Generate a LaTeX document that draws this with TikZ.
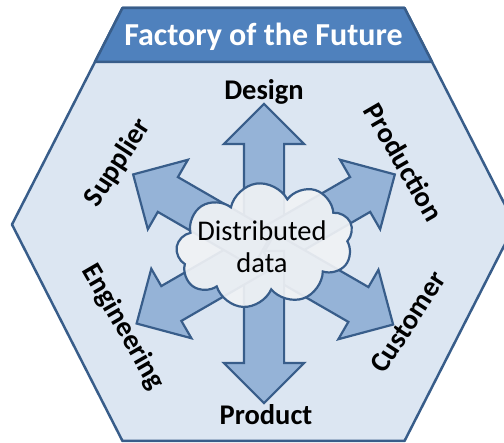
\documentclass[tikz,border=0pt]{standalone}
\usepackage{fontspec}
\setmainfont{Carlito}
\usetikzlibrary{shapes.arrows,shapes.symbols,positioning,calc}
\definecolor{hexfill}{RGB}{220,230,242}
\definecolor{hexline}{RGB}{56,93,138}
\definecolor{titleblue}{RGB}{79,129,189}
\definecolor{arrowfill}{RGB}{149,179,215}
\definecolor{cloudfill}{RGB}{240,242,245}

\begin{document}
\begin{tikzpicture}[
    x=1pt, y=1pt,
    hexside/.style={draw=hexline, line width=2.5pt, fill=hexfill, line join=round},
    titleband/.style={draw=hexline, line width=2.5pt, fill=titleblue, line join=round},
    bigarrow/.style={single arrow, draw=hexline, fill=arrowfill, line width=2.2pt,
                     inner sep=0pt, inner ysep=19pt, minimum width=0pt,
                     single arrow head extend=20pt, single arrow tip angle=90,
                     anchor=tail, line join=miter},
    datacloud/.style={cloud, cloud puffs=9, cloud puff arc=140, cloud ignores aspect,
                      draw=hexline, line width=2.2pt, fill=cloudfill, fill opacity=0.92,
                      inner sep=0pt, minimum width=178pt, minimum height=124pt},
    cloudtext/.style={align=center, font=\fontsize{28.5}{32}\selectfont},
    role/.style={font=\fontsize{28.5}{32}\selectfont\bfseries},
    titletext/.style={font=\fontsize{32}{36}\selectfont\bfseries, text=white}
  ]

  \useasboundingbox (0,0) rectangle (504,443);

  % hexagon body and title band
  \draw[hexside] (122.5,435) -- (404.5,435) -- (515,218.5) -- (404.5,2)
                 -- (122.5,2) -- (12,218.5) -- cycle;
  \draw[titleband] (122.5,435) -- (404.5,435) -- (432.1,381) -- (94.9,381) -- cycle;
  \node[titletext] (title) at (263.5,406) {Factory of the Future};

  % arrows out of the data cloud
  \coordinate (hub) at (264,193);
  \foreach \ang/\len/\nm in {90/145/design, 30/150/production, -30/148/customer,
                             -90/152/product, -150/146/engineering, 150/150/supplier}
    \node[bigarrow, rotate=\ang, minimum height=\len] (arr-\nm) at (hub) {};

  \node[datacloud, rotate=8] (cloud) at (265,198) {};
  \node[cloudtext] (cloudlabel) at (262,196) {Distributed\\data};

  % roles round the hexagon
  \node[role, anchor=base] (design) at (264,343) {Design};
  \node[role, anchor=base] (product) at (266,18) {Product};
  \node[role, rotate=57] (supplier) at (118,280) {Supplier};
  \node[role, rotate=-60] (production) at (404,281) {Production};
  \node[role, rotate=-60] (engineering) at (123,116) {Engineering};
  \node[role, rotate=57] (customer) at (408,121) {Customer};

\end{tikzpicture}
\end{document}
